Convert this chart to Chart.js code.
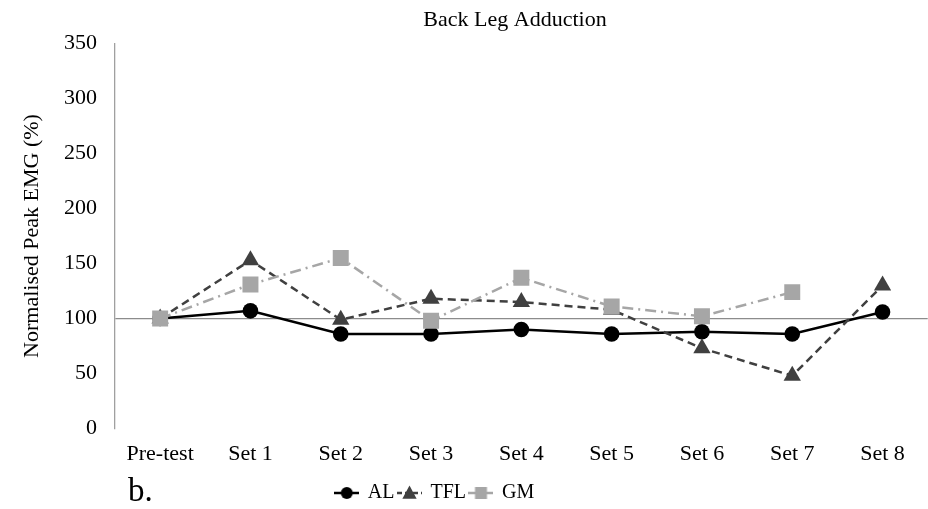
<!DOCTYPE html>
<html>
<head>
<meta charset="utf-8">
<title>Back Leg Adduction</title>
<script src="https://cdn.jsdelivr.net/npm/chart.js@4/dist/chart.umd.min.js"></script>
<style>
  html, body { margin: 0; padding: 0; background: #fff; overflow: hidden; }
  #wrap { width: 939px; height: 509px; }
  canvas { display: block; }
</style>
</head>
<body>
<div id="wrap"><canvas id="chart"></canvas></div>
<script>
// Normalised peak EMG (%) per set, back leg adduction
const labels = ['Pre-test', 'Set 1', 'Set 2', 'Set 3', 'Set 4', 'Set 5', 'Set 6', 'Set 7', 'Set 8'];
const alValues  = [100, 107, 86, 86, 90, 86, 88, 86, 106];
const tflValues = [100, 153, 99, 118, 115, 108, 73, 48, 130];
const gmValues  = [100, 131, 155, 98, 137, 111, 102, 124, null];
const yTicks = [0, 50, 100, 150, 200, 250, 300, 350];

const FONT = "'Liberation Serif', 'Times New Roman', serif";

// small canvas: line segment with the marker in the middle, used in the legend
function legendIcon(color, dash, style, r) {
  const c = document.createElement('canvas');
  c.width = 25; c.height = 18;
  const g = c.getContext('2d');
  g.strokeStyle = color;
  g.lineWidth = 2.5;
  g.setLineDash(dash);
  g.beginPath();
  g.moveTo(0, 9); g.lineTo(25, 9);
  g.stroke();
  g.setLineDash([]);
  g.fillStyle = color;
  g.beginPath();
  if (style === 'circle') {
    g.arc(12.5, 9, r, 0, Math.PI * 2);
  } else if (style === 'triangle') {
    g.moveTo(12.5, 9 - r);
    g.lineTo(12.5 + r * 0.95, 9 + r * 0.75);
    g.lineTo(12.5 - r * 0.95, 9 + r * 0.75);
    g.closePath();
  } else {
    g.rect(12.5 - r, 9 - r, 2 * r, 2 * r);
  }
  g.fill();
  return c;
}

const series = [
  { label: 'AL',  data: alValues,  color: '#000000', dash: [],            style: 'circle',   radius: 7.8,  order: 3, icon: legendIcon('#000000', [], 'circle', 6) },
  { label: 'TFL', data: tflValues, color: '#404040', dash: [8, 5],        style: 'triangle', radius: 10,   order: 2, icon: legendIcon('#404040', [5, 3], 'triangle', 7.5) },
  { label: 'GM',  data: gmValues,  color: '#a6a6a6', dash: [11, 5, 2, 5], style: 'rect',     radius: 11.3, order: 1, icon: legendIcon('#a6a6a6', [9, 3, 2, 3], 'rect', 6) }
];

// "b." panel tag at the bottom left
const panelTag = {
  id: 'panelTag',
  afterDraw(chart) {
    const ctx = chart.ctx;
    ctx.save();
    ctx.fillStyle = '#000';
    ctx.font = '33px ' + FONT;
    ctx.textBaseline = 'alphabetic';
    ctx.fillText('b.', 128, 501);
    ctx.restore();
  }
};

// title sits over the plot area, legend row a little left of centre
const boxShift = {
  id: 'boxShift',
  afterLayout(chart) {
    if (chart.titleBlock) chart.titleBlock.left += 91;
    if (chart.legend) chart.legend.right -= 69;
  }
};

new Chart(document.getElementById('chart'), {
  type: 'line',
  data: {
    labels,
    datasets: series.map(s => ({
      label: s.label,
      data: s.data,
      borderColor: s.color,
      backgroundColor: s.color,
      borderWidth: 2.5,
      borderDash: s.dash,
      pointStyle: s.style,
      pointRadius: s.radius,
      pointHoverRadius: s.radius,
      pointBorderWidth: 0,
      pointBackgroundColor: s.color,
      tension: 0,
      spanGaps: false,
      order: s.order
    }))
  },
  options: {
    responsive: true,
    maintainAspectRatio: false,
    animation: false,
    layout: { padding: { left: 0, right: 0, top: 0, bottom: -4 } },
    plugins: {
      title: {
        display: true,
        text: 'Back Leg Adduction',
        color: '#000',
        font: { family: FONT, size: 22, weight: 'normal' },
        padding: { top: 7, bottom: 10 }
      },
      legend: {
        position: 'bottom',
        labels: {
          color: '#000',
          font: { family: FONT, size: 20, lineHeight: 1 },
          usePointStyle: true,
          pointStyleWidth: 22,
          boxHeight: 18,
          padding: 4,
          generateLabels: () => series.map((s, i) => ({
            text: s.label,
            datasetIndex: i,
            pointStyle: s.icon,
            fontColor: '#000',
            strokeStyle: s.color,
            fillStyle: s.color,
            lineWidth: 0
          }))
        }
      },
      tooltip: { enabled: false }
    },
    scales: {
      x: {
        offset: true,
        border: { display: false },
        grid: { display: false, drawTicks: false },
        afterFit: scale => { scale.paddingLeft = 0; scale.paddingRight = 0; },
        ticks: {
          color: '#000',
          font: { family: FONT, size: 22 },
          padding: 12,
          maxRotation: 0,
          autoSkip: false
        }
      },
      y: {
        min: 0,
        max: 350,
        afterBuildTicks: scale => { scale.ticks = yTicks.map(v => ({ value: v })); },
        afterFit: scale => { scale.width = 115; },
        border: { display: true, color: '#a0a0a0', width: 1.3 },
        grid: {
          drawTicks: false,
          lineWidth: 1.3,
          color: ctx => (ctx.tick && ctx.tick.value === 100 ? '#8c8c8c' : 'rgba(0,0,0,0)')
        },
        ticks: {
          color: '#000',
          font: { family: FONT, size: 22 },
          padding: 18
        },
        title: {
          display: true,
          text: 'Normalised Peak EMG (%)',
          color: '#000',
          font: { family: FONT, size: 22 },
          padding: { top: 19, bottom: 0 }
        }
      }
    }
  },
  plugins: [panelTag, boxShift]
});
</script>
</body>
</html>
